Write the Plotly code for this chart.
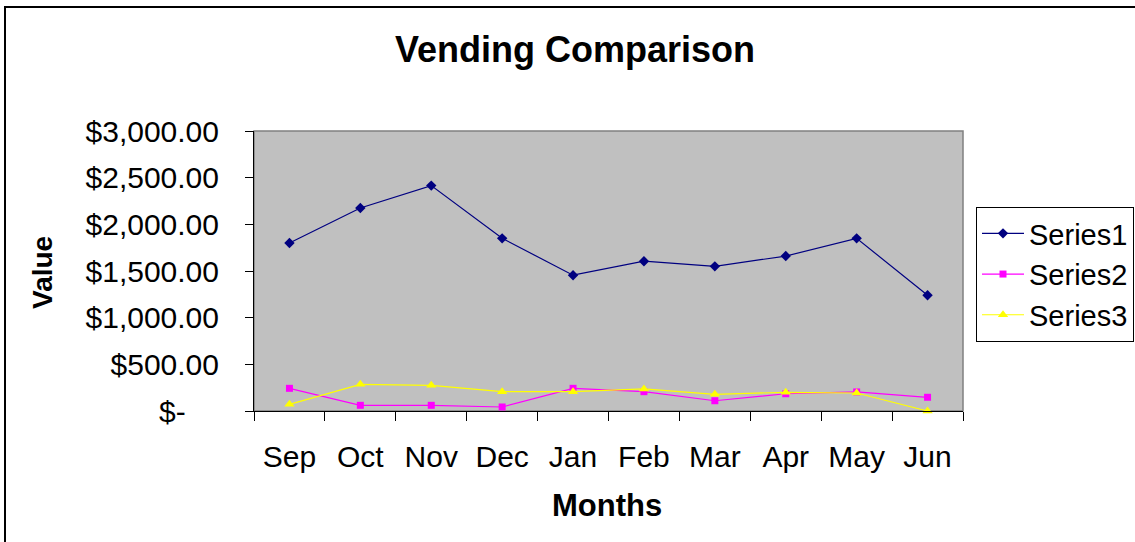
import plotly.graph_objects as go

months = ["Sep", "Oct", "Nov", "Dec", "Jan", "Feb", "Mar", "Apr", "May", "Jun"]
series1 = [1800, 2175, 2415, 1850, 1455, 1605, 1550, 1660, 1850, 1240]
series2 = [243, 61, 61, 43, 243, 207, 110, 185, 204, 147]
series3 = [71, 286, 275, 207, 207, 236, 179, 200, 193, 0]
y_tickvals = [0, 500, 1000, 1500, 2000, 2500, 3000]
y_ticktext = ["$-\u00a0\u00a0\u00a0\u00a0", "$500.00", "$1,000.00", "$1,500.00",
              "$2,000.00", "$2,500.00", "$3,000.00"]

FONT = "Liberation Sans, Arial, sans-serif"
W, H = 1135, 542
L, R, T, B = 254, 963, 131, 411

fig = go.Figure()
fig.add_trace(go.Scatter(x=months, y=series1, name="Series1", mode="lines+markers",
                         line=dict(color="#000080", width=1.2),
                         marker=dict(symbol="diamond", size=8, color="#000080"),
                         cliponaxis=False))
fig.add_trace(go.Scatter(x=months, y=series2, name="Series2", mode="lines+markers",
                         line=dict(color="#FF00FF", width=1.2),
                         marker=dict(symbol="square", size=7, color="#FF00FF"),
                         cliponaxis=False))
fig.add_trace(go.Scatter(x=months, y=series3, name="Series3", mode="lines+markers",
                         line=dict(color="#FFFF00", width=1.2),
                         marker=dict(symbol="triangle-up", size=9, color="#FFFF00"),
                         cliponaxis=False))

pw, ph = R - L, B - T
def px(x):
    return (x - L) / pw
def py(y):
    return (B - y) / ph

fig.update_layout(
    width=W, height=H,
    margin=dict(l=L, r=W - R, t=T, b=H - B, autoexpand=False),
    paper_bgcolor="white",
    plot_bgcolor="#C0C0C0",
    font=dict(family=FONT, size=29, color="black"),
    showlegend=True,
    legend=dict(x=px(976), y=py(207), xanchor="left", yanchor="top",
                bordercolor="black", borderwidth=1, bgcolor="white",
                font=dict(family=FONT, size=29, color="black"),
                tracegroupgap=0, itemwidth=42, entrywidth=200),
    xaxis=dict(type="category", range=[-0.5, 9.5], showgrid=False,
               showline=True, linecolor="black", linewidth=1,
               ticks="outside", ticklen=9, tickcolor="black", tickwidth=1,
               tickson="boundaries", ticklabelstandoff=19,
               tickfont=dict(family=FONT, size=30), zeroline=False),
    yaxis=dict(range=[0, 3000], showgrid=False,
               showline=True, linecolor="black", linewidth=1,
               ticks="outside", ticklen=8, tickcolor="black", tickwidth=1,
               tickvals=y_tickvals, ticktext=y_ticktext, ticklabelstandoff=20,
               tickfont=dict(family=FONT, size=30), zeroline=False),
    shapes=[
        dict(type="rect", xref="paper", yref="paper", x0=0, x1=1, y0=0, y1=1,
             line=dict(color="#808080", width=1.5), fillcolor="rgba(0,0,0,0)", layer="below"),
        dict(type="line", xref="paper", yref="paper", x0=px(5), x1=px(1140),
             y0=py(7), y1=py(7), line=dict(color="black", width=2), layer="above"),
        dict(type="line", xref="paper", yref="paper", x0=px(5), x1=px(5),
             y0=py(6), y1=py(545), line=dict(color="black", width=2), layer="above"),
    ],
    annotations=[
        dict(text="Vending Comparison", xref="paper", yref="paper",
             x=px(575), y=py(50), xanchor="center", yanchor="middle", showarrow=False,
             font=dict(family=FONT, size=36, weight="bold", color="black")),
        dict(text="Value", xref="paper", yref="paper", textangle=-90,
             x=px(42), y=py(273), xanchor="center", yanchor="middle", showarrow=False,
             font=dict(family=FONT, size=28, weight="bold", color="black")),
        dict(text="Months", xref="paper", yref="paper",
             x=px(607), y=py(505), xanchor="center", yanchor="middle", showarrow=False,
             font=dict(family=FONT, size=31, weight="bold", color="black")),
    ],
)

fig.write_html("out.html", config={"displayModeBar": False},
               post_script="document.body.style.margin='0';document.body.style.overflow='hidden';")
